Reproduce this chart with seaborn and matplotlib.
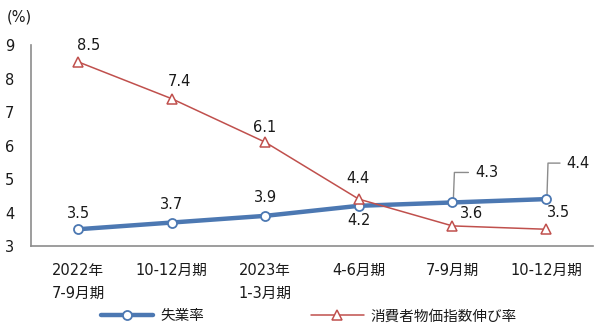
import matplotlib
matplotlib.use("Agg")
import matplotlib.pyplot as plt
import seaborn as sns
import pandas as pd

# Quarterly figures (%)
quarters = ["2022年\n7-9月期", "10-12月期", "2023年\n1-3月期", "4-6月期", "7-9月期", "10-12月期"]
unemployment = [3.5, 3.7, 3.9, 4.2, 4.3, 4.4]
cpi_growth = [8.5, 7.4, 6.1, 4.4, 3.6, 3.5]
series_names = ["失業率", "消費者物価指数伸び率"]
y_ticks = [3, 4, 5, 6, 7, 8, 9]

sns.set_style("white")
plt.rcParams["font.family"] = ["DejaVu Sans", "Noto Sans CJK JP"]

BLUE = "#4C78B2"
RED = "#C0504D"
GRAY = "#8C8C8C"
TXT = "#1a1a1a"

df = pd.DataFrame({
    "pos": list(range(len(quarters))) * 2,
    "value": unemployment + cpi_growth,
    "series": [series_names[0]] * len(quarters) + [series_names[1]] * len(quarters),
})

fig = plt.figure(figsize=(6.0, 3.29), dpi=100)
ax = fig.add_axes([0.052, 0.2523, 0.936, 0.6107])

sns.lineplot(data=df[df.series == series_names[0]], x="pos", y="value", ax=ax,
             color=BLUE, linewidth=3.2, marker="o", markersize=6.5,
             markerfacecolor="white", markeredgecolor=BLUE, markeredgewidth=1.3,
             label=series_names[0], legend=False)
sns.lineplot(data=df[df.series == series_names[1]], x="pos", y="value", ax=ax,
             color=RED, linewidth=1.1, marker="^", markersize=7,
             markerfacecolor="white", markeredgecolor=RED, markeredgewidth=1.1,
             label=series_names[1], legend=False)

ax.set_xlim(-0.5, len(quarters) - 0.5)
ax.set_ylim(3, 9)
ax.set_yticks(y_ticks)
ax.set_yticklabels([str(t) for t in y_ticks], fontsize=10.5, color=TXT)
ax.set_xticks(range(len(quarters)))
ax.set_xticklabels(quarters, fontsize=10.5, color=TXT, linespacing=1.65)
ax.set_xticks([i - 0.5 for i in range(len(quarters) + 1)], minor=True)
ax.tick_params(axis="x", which="major", length=0, pad=12)
ax.tick_params(axis="x", which="minor", direction="in", length=4, color=GRAY, width=1)
ax.tick_params(axis="y", direction="in", length=4, color=GRAY, width=1, pad=12)
ax.set_xlabel("")
ax.set_ylabel("")
for side in ("top", "right"):
    ax.spines[side].set_visible(False)
for side in ("left", "bottom"):
    ax.spines[side].set_color(GRAY)
    ax.spines[side].set_linewidth(1.2)

fig.text(0.012, 0.948, "(%)", fontsize=10.5, color=TXT, va="center", ha="left")

# Value labels: offsets in pixels from each point
u_offsets = [(0, 16), (0, 18), (0, 18), (0, -15), (34, 30), (32, 36)]
c_offsets = [(11, 16), (8, 17), (-1, 15), (-1, 21), (19, 12), (12, 17)]

for i, (v, off) in enumerate(zip(unemployment, u_offsets)):
    ax.annotate(f"{v:.1f}", (i, v), xytext=off, textcoords="offset pixels",
                ha="center", va="center", fontsize=10.5, color=TXT)
for i, (v, off) in enumerate(zip(cpi_growth, c_offsets)):
    ax.annotate(f"{v:.1f}", (i, v), xytext=off, textcoords="offset pixels",
                ha="center", va="center", fontsize=10.5, color=TXT)

# Leader lines for the last two unemployment labels
trans = ax.transData
for i, (dx_up, dy_up, dx_end) in zip([4, 5], [(2, 30, 16), (2, 36, 14)]):
    x0, y0 = trans.transform((i, unemployment[i]))
    pts = [(x0 + 1, y0 + 4), (x0 + dx_up, y0 + dy_up), (x0 + dx_end, y0 + dy_up)]
    inv = trans.inverted()
    dpts = [inv.transform(p) for p in pts]
    ax.plot([p[0] for p in dpts], [p[1] for p in dpts], color=GRAY, linewidth=1.0,
            clip_on=False, zorder=1)

handles, labels = ax.get_legend_handles_labels()
leg = fig.legend(handles, labels, loc="center", bbox_to_anchor=(0.515, 0.04), ncol=2,
                 frameon=False, fontsize=10.5, handlelength=3.6, columnspacing=7.3,
                 handletextpad=0.5)
for t in leg.get_texts():
    t.set_color(TXT)

fig.savefig("out.png", dpi=100)
